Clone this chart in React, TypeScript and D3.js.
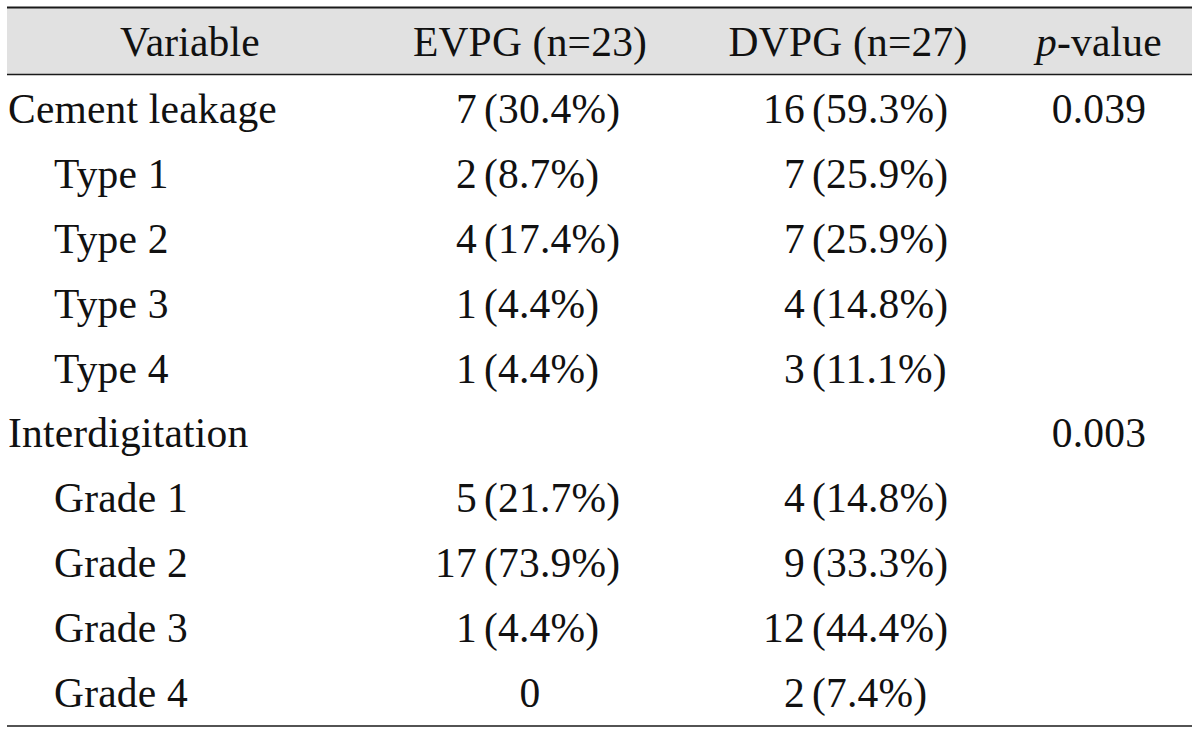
import React from "react";
import * as d3 from "d3";

const headers = ["Variable", "EVPG (n=23)", "DVPG (n=27)", "p-value"];
const variables = [
  "Cement leakage", "Type 1", "Type 2", "Type 3", "Type 4",
  "Interdigitation", "Grade 1", "Grade 2", "Grade 3", "Grade 4",
];
const indented = [false, true, true, true, true, false, true, true, true, true];
const evpgCount: (number | null)[] = [7, 2, 4, 1, 1, null, 5, 17, 1, 0];
const evpgPct: (string | null)[] = ["30.4%", "8.7%", "17.4%", "4.4%", "4.4%", null, "21.7%", "73.9%", "4.4%", null];
const dvpgCount: (number | null)[] = [16, 7, 7, 4, 3, null, 4, 9, 12, 2];
const dvpgPct: (string | null)[] = ["59.3%", "25.9%", "25.9%", "14.8%", "11.1%", null, "14.8%", "33.3%", "44.4%", "7.4%"];
const pValues: (string | null)[] = ["0.039", null, null, null, null, "0.003", null, null, null, null];

const W = 1200;
const H = 735;
const FONT = "'Liberation Serif', 'Times New Roman', serif";
const FS = 41.5;
const INK = "#111";

export default function App() {
  const y = d3
    .scalePoint<number>()
    .domain(d3.range(variables.length))
    .range([123, 707]);
  const left = 7;
  const right = 1192;
  const colVarCenter = 190;
  const evNumRight = 477;
  const evParen = 484;
  const evCenter = 530;
  const dvNumRight = 805;
  const dvParen = 812;
  const dvCenter = 848;
  const pCenter = 1099;
  const headerBaseline = 56;

  const cell = (count: number | null, pct: string | null, numRight: number, parenX: number, center: number, key: string) => {
    if (count === null) return null;
    if (pct === null) {
      return (
        <text key={key} x={center} textAnchor="middle">{count}</text>
      );
    }
    return (
      <g key={key}>
        <text x={numRight} textAnchor="end">{count}</text>
        <text x={parenX}>({pct})</text>
      </g>
    );
  };

  return (
    <svg
      width={W}
      height={H}
      style={{ position: "absolute", left: 0, top: 0, background: "#fff" }}
      fontFamily={FONT}
      fontSize={FS}
      letterSpacing={0.2}
      fill={INK}
    >
      <rect x={left} y={8} width={right - left} height={66} fill="#e1e1e1" />
      <line x1={left} x2={right} y1={7.5} y2={7.5} stroke="#1a1a1a" strokeWidth={2} />
      <line x1={left} x2={right} y1={74.5} y2={74.5} stroke="#1a1a1a" strokeWidth={1.6} />
      <line x1={left} x2={right} y1={726} y2={726} stroke="#1a1a1a" strokeWidth={1.6} />

      <g transform={`translate(0,${headerBaseline})`}>
        <text x={colVarCenter} textAnchor="middle">{headers[0]}</text>
        <text x={evCenter} textAnchor="middle">{headers[1]}</text>
        <text x={dvCenter} textAnchor="middle">{headers[2]}</text>
        <text x={pCenter} textAnchor="middle">
          <tspan fontStyle="italic">{headers[3].slice(0, 1)}</tspan>
          <tspan>{headers[3].slice(1)}</tspan>
        </text>
      </g>

      {variables.map((v, i) => (
        <g key={v} transform={`translate(0,${y(i)})`}>
          <text x={indented[i] ? 54 : 8}>{v}</text>
          {cell(evpgCount[i], evpgPct[i], evNumRight, evParen, evCenter, "ev")}
          {cell(dvpgCount[i], dvpgPct[i], dvNumRight, dvParen, dvCenter, "dv")}
          {pValues[i] !== null && (
            <text x={pCenter} textAnchor="middle">{pValues[i]}</text>
          )}
        </g>
      ))}
    </svg>
  );
}
